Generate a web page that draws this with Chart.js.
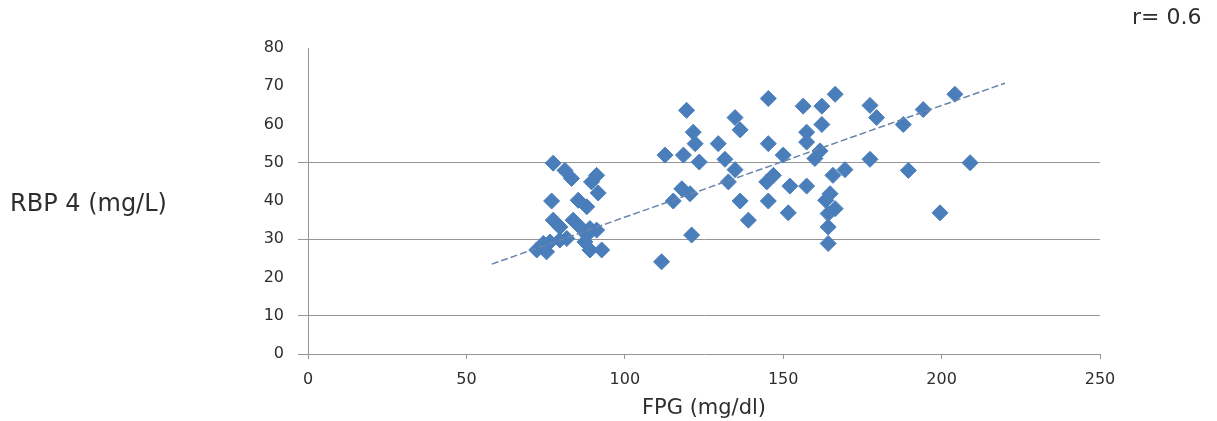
<!DOCTYPE html>
<html>
<head>
<meta charset="utf-8">
<script src="https://cdn.jsdelivr.net/npm/chart.js@4.4.0/dist/chart.umd.min.js"></script>
<style>
    html, body { margin: 0; padding: 0; background: #ffffff; }
    #chartBox { width: 1217px; height: 421px; }
</style>
</head>
<body>
<div id="chartBox"><canvas id="rbpChart" width="1217" height="421"></canvas></div>
<script>
// FPG (mg/dl) for each patient
var fpg = [
    77.4, 81.1, 83.2, 91.1, 89.5, 91.6, 76.9, 85.3, 88.0, 77.4,
    83.7, 79.5, 85.9, 89.0, 91.1, 88.0, 76.4, 74.3, 79.5, 81.7,
    72.2, 75.3, 73.8, 89.0, 92.7, 87.4,
    119.5, 134.8, 136.4, 121.6, 122.2, 129.5, 112.7, 118.5, 123.5, 131.6,
    134.8, 132.7, 118.0, 120.6, 115.3, 136.4, 139.0, 121.1, 111.6,
    145.3, 166.4, 156.3, 162.2, 177.4, 179.5, 162.2, 157.4, 157.4, 145.3,
    150.0, 161.6, 160.0, 177.4, 146.9, 144.8, 152.1, 157.4, 165.7, 169.5,
    164.8, 163.4, 145.3, 151.6, 166.4, 164.2, 164.2, 164.2,
    204.2, 194.2, 187.9, 209.0, 189.5, 199.5
];

// RBP 4 (mg/L), same order as fpg
var rbp = [
    49.9, 48.0, 45.9, 46.7, 45.0, 42.1, 40.0, 40.2, 38.5, 35.0,
    35.0, 33.2, 33.2, 32.8, 32.4, 31.1, 29.3, 28.9, 29.8, 30.2,
    27.2, 26.7, 28.0, 27.2, 27.2, 29.3,
    63.7, 61.8, 58.6, 58.0, 55.0, 55.0, 52.0, 52.0, 50.2, 50.9,
    48.2, 45.0, 43.2, 41.9, 40.0, 40.0, 35.0, 31.1, 24.1,
    66.8, 67.9, 64.8, 64.8, 65.0, 61.8, 60.0, 58.0, 55.4, 55.0,
    52.0, 53.1, 51.1, 50.9, 46.7, 45.0, 43.9, 43.9, 46.7, 48.2,
    41.9, 40.2, 40.0, 36.9, 38.0, 36.7, 33.2, 28.9,
    67.9, 63.9, 60.0, 50.0, 48.0, 36.9
];

// ends of the linear trend line as drawn in the picture
var trendX = [58, 220];
var trendY = [23.5, 70.8];

var gridValues = [10, 30, 50];
var xTitle = 'FPG (mg/dl)';
var yTitle = 'RBP 4 (mg/L)';
var rLabel = 'r= 0.6';

var axisGray = '#959595';
var pointBlue = '#4a7ebb';
var textGray = '#2e2e2e';

var points = fpg.map(function (v, i) {
    return { x: v, y: rbp[i] };
});
var trend = trendX.map(function (v, i) {
    return { x: v, y: trendY[i] };
});

// the y label sits flat on the left and r sits top right, so draw them here
var sideLabels = {
    id: 'sideLabels',
    afterDraw: function (chart) {
        var ctx = chart.ctx;
        ctx.save();
        ctx.fillStyle = textGray;
        ctx.textBaseline = 'middle';
        ctx.textAlign = 'left';
        ctx.font = '24px "DejaVu Sans"';
        ctx.fillText(yTitle, 10, 205);
        ctx.font = '22px "DejaVu Sans"';
        ctx.fillText(rLabel, 1132, 18);
        ctx.restore();
    }
};

var ctx = document.getElementById('rbpChart').getContext('2d');
var theChart = new Chart(ctx, {
    type: 'scatter',
    data: {
        datasets: [
            {
                label: 'trend',
                data: trend,
                showLine: true,
                borderColor: '#6a84aa',
                borderWidth: 1.5,
                borderDash: [7, 3],
                pointRadius: 0,
                order: 0
            },
            {
                label: 'RBP 4',
                data: points,
                pointStyle: 'rectRot',
                pointRadius: 8,
                backgroundColor: pointBlue,
                borderColor: pointBlue,
                borderWidth: 1,
                order: 1
            }
        ]
    },
    options: {
        responsive: false,
        animation: false,
        layout: {
            padding: { top: 48, right: 117, bottom: 0, left: 0 }
        },
        plugins: {
            legend: { display: false },
            tooltip: { enabled: false }
        },
        scales: {
            x: {
                type: 'linear',
                min: 0,
                max: 250,
                afterFit: function (scale) { scale.height = 67; },
                ticks: {
                    stepSize: 50,
                    padding: 11,
                    color: textGray,
                    font: { family: 'DejaVu Sans', size: 16 }
                },
                grid: {
                    drawOnChartArea: false,
                    tickLength: 5,
                    tickColor: axisGray
                },
                border: { color: axisGray, width: 1 },
                title: {
                    display: true,
                    text: xTitle,
                    color: textGray,
                    font: { family: 'DejaVu Sans', size: 21 },
                    padding: { top: 4, bottom: 0 }
                }
            },
            y: {
                min: 0,
                max: 80,
                afterFit: function (scale) { scale.width = 308; },
                ticks: {
                    stepSize: 10,
                    padding: 14,
                    color: textGray,
                    font: { family: 'DejaVu Sans', size: 16 }
                },
                grid: {
                    tickLength: 10,
                    color: function (c) {
                        return gridValues.indexOf(c.tick.value) >= 0 ? axisGray : 'rgba(0,0,0,0)';
                    },
                    tickColor: function (c) {
                        return (c.tick.value === 0 || gridValues.indexOf(c.tick.value) >= 0) ? axisGray : 'rgba(0,0,0,0)';
                    }
                },
                border: { color: axisGray, width: 1 }
            }
        }
    },
    plugins: [sideLabels]
});
</script>
</body>
</html>
